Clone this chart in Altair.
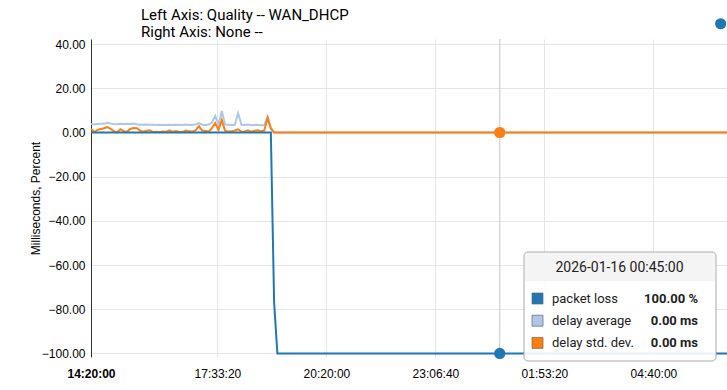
import altair as alt
import pandas as pd

# ---------------- data ----------------
series_names = ["packet loss", "delay average", "delay std. dev."]
series_colors = ["#1f77b4", "#aec7e8", "#ff7f0e"]
series_units = ["%", "ms", "ms"]

times = [
    "14:20", "14:25", "14:30", "14:35", "14:40", "14:45", "14:50", "14:55",
    "15:00", "15:05", "15:10", "15:15", "15:20", "15:25", "15:30", "15:35", "15:40", "15:45", "15:50", "15:55",
    "16:00", "16:05", "16:10", "16:15", "16:20", "16:25", "16:30", "16:35", "16:40", "16:45", "16:50", "16:55",
    "17:00", "17:05", "17:10", "17:15", "17:20", "17:25", "17:30", "17:35", "17:40", "17:45", "17:50", "17:55",
    "18:00", "18:05", "18:10", "18:15", "18:20", "18:25", "18:30", "18:35", "18:40", "18:45", "18:50", "18:55",
    "19:00", "19:05", "19:10", "06:32:30",
]

packet_loss = [0] * 56 + [77, 100, 100, 100]

delay_average = [
    3.9, 3.6, 3.8, 4.0, 3.9, 4.4, 4.0, 3.8,
    3.7, 3.9, 3.8, 3.9, 3.8, 4.0, 3.7, 3.5, 3.5, 3.6, 3.5, 3.5,
    3.4, 3.5, 3.4, 3.4, 3.5, 3.4, 3.5, 3.4, 3.4, 3.6, 3.4, 3.5,
    3.6, 4.2, 3.5, 3.4, 3.6, 4.5, 7.5, 3.6, 9.7, 3.6, 3.5, 3.4,
    3.5, 8.7, 3.5, 3.4, 3.6, 3.3, 3.4, 3.5, 3.3, 3.4, 7.1, 2.0,
    0.0, 0.0, 0.0, 0.0,
]

delay_std_dev = [
    1.7, 0.2, 1.2, 1.6, 1.9, 2.4, 1.6, 0.6,
    0.1, 1.5, 0.6, 0.3, 1.6, 2.0, 1.9, 0.9, 0.3, 0.8, 1.0, 0.2,
    0.3, 0.2, 0.4, 0.3, 1.0, 0.3, 0.6, 0.2, 0.3, 0.9, 0.5, 0.4,
    1.0, 2.9, 0.9, 0.7, 0.4, 2.0, 4.3, 1.2, 5.6, 0.8, 0.4, 0.5,
    0.9, 1.4, 0.3, 0.5, 1.0, 0.3, 0.8, 1.0, 0.5, 0.9, 6.7, 1.8,
    0.0, 0.0, 0.0, 0.0,
]

x_tick_labels = ["14:20:00", "17:33:20", "20:20:00", "23:06:40", "01:53:20", "04:40:00"]
x_domain = ["14:20:00", "06:32:30"]
y_ticks = [-100, -80, -60, -40, -20, 0, 20, 40]
y_domain = [-101.6, 42.3]

cursor_time = "00:45:00"
cursor_label = "2026-01-16 00:45:00"
cursor_values = [100.0, 0.0, 0.0]

marker_time = "06:22:48"
marker_value = 49.2

title_lines = ["Left Axis: Quality -- WAN_DHCP", "Right Axis: None --"]
y_title = "Milliseconds, Percent"


def to_sec(t):
    p = [int(v) for v in t.split(":")]
    while len(p) < 3:
        p.append(0)
    s = p[0] * 3600 + p[1] * 60 + p[2] - (14 * 3600 + 20 * 60)
    if s < 0:
        s += 86400
    return s


# ---------------- tables ----------------
rows = []
for name, vals in zip(series_names, [packet_loss, delay_average, delay_std_dev]):
    for t, v in zip(times, vals):
        rows.append({"t": to_sec(t), "series": name, "value": v})
df = pd.DataFrame(rows)

cur = pd.DataFrame({
    "t": [to_sec(cursor_time)] * 3,
    "series": series_names,
    "value": cursor_values,
    "unit": series_units,
    "row": [0, 1, 2],
})
cur["label"] = [f"{v:.2f} {u}" for v, u in zip(cursor_values, series_units)]

marker = pd.DataFrame({"t": [to_sec(marker_time)], "value": [marker_value]})
header = pd.DataFrame({"header": [cursor_label], "t": [to_sec(cursor_time)]})

FONT = "Liberation Sans"
TFONT = "Roboto"

color_scale = alt.Scale(domain=series_names, range=series_colors)

x_enc = alt.X(
    "t:Q",
    scale=alt.Scale(domain=[to_sec(x_domain[0]), to_sec(x_domain[1])], nice=False, zero=False),
    axis=alt.Axis(
        values=[to_sec(v) for v in x_tick_labels],
        labelExpr="timeFormat(datetime(2026, 0, 15, 14, 20, datum.value), '%H:%M:%S')",
        title=None,
        grid=True,
        gridColor="#e6e6e6",
        domain=False,
        ticks=False,
        labelFont=FONT,
        labelFontSize=12,
        labelColor="#000",
        labelPadding=11,
        labelFlush=False,
        labelFontWeight={"condition": {"test": "datum.value === 0", "value": "bold"}, "value": "normal"},
    ),
)

y_axis = alt.Axis(
    values=y_ticks,
    format=".2f",
    title=y_title,
    titleFont=FONT,
    titleFontSize=12,
    titleFontWeight="normal",
    titleColor="#000",
    titleX=-49,
    grid=True,
    gridColor="#e6e6e6",
    domainColor="#333",
    domainWidth=1,
    ticks=False,
    labelFont=FONT,
    labelFontSize=12,
    labelColor="#000",
    labelPadding=6,
)
y_scale = alt.Scale(domain=y_domain, nice=False, zero=False)


def y_plot():
    return alt.Y("yp:Q", scale=y_scale, axis=y_axis)


calc_y = "datum.series === 'packet loss' ? -datum.value : datum.value"

base = alt.Chart(df).transform_calculate(yp=calc_y)

rule = alt.Chart(header).mark_rule(color="#d0d0d0", strokeWidth=1.2).encode(x=x_enc)


def line_for(name):
    return base.transform_filter(alt.datum.series == name).mark_line(strokeWidth=2).encode(
        x=x_enc,
        y=y_plot(),
        color=alt.Color("series:N", scale=color_scale, legend=None),
    )


lines = [line_for(series_names[1]), line_for(series_names[2]), line_for(series_names[0])]

dots = alt.Chart(cur).transform_calculate(yp=calc_y).mark_circle(size=125, opacity=1).encode(
    x=x_enc, y=y_plot(),
    color=alt.Color("series:N", scale=color_scale, legend=None),
    order=alt.Order("row:Q", sort="ascending"),
)

stray = alt.Chart(marker).mark_circle(size=125, opacity=1, color="#1f77b4").encode(
    x=x_enc, y=alt.Y("value:Q", scale=y_scale, axis=y_axis),
)

# ---- tooltip box (pixel positions relative to plot origin) ----
OX, OY = 91, 39
box = alt.Chart(header).mark_rect(
    fill="white", fillOpacity=0.9, stroke="#a8a8a8", strokeWidth=1, cornerRadius=4
).encode(
    x=alt.value(524 - OX), x2=alt.value(716 - OX), y=alt.value(252 - OY), y2=alt.value(361 - OY)
)
head_bg = alt.Chart(header).mark_rect(
    fill="#f4f4f4", cornerRadiusTopLeft=3, cornerRadiusTopRight=3
).encode(
    x=alt.value(525 - OX), x2=alt.value(715 - OX), y=alt.value(253 - OY), y2=alt.value(281 - OY)
)
head_txt = alt.Chart(header).mark_text(
    font=TFONT, fontSize=14, color="#222", align="center", baseline="middle"
).encode(
    x=alt.value(619.5 - OX), y=alt.value(268 - OY), text="header:N"
)

tip = alt.Chart(cur).transform_calculate(
    py=f"{298.5 - OY} + 22.2 * datum.row",
    py1=f"{298.5 - OY - 5.5} + 22.2 * datum.row",
    py2=f"{298.5 - OY + 5.5} + 22.2 * datum.row",
)
swatch = tip.mark_rect(stroke="#666", strokeWidth=1, strokeOpacity=0.7).encode(
    x=alt.value(532 - OX), x2=alt.value(543 - OX),
    y=alt.Y("py1:Q", scale=None, axis=None), y2="py2:Q",
    color=alt.Color("series:N", scale=color_scale, legend=None),
)
names_txt = tip.mark_text(font=TFONT, fontSize=13, color="#222", align="left", baseline="middle").encode(
    x=alt.value(552 - OX), y=alt.Y("py:Q", scale=None, axis=None), text="series:N"
)
vals_txt = tip.mark_text(font=TFONT, fontSize=13, fontWeight="bold", color="#222", align="right", baseline="middle").encode(
    x=alt.value(698 - OX), y=alt.Y("py:Q", scale=None, axis=None), text="label:N"
)

chart = alt.layer(
    rule, *lines, dots, stray, box, head_bg, head_txt, swatch, names_txt, vals_txt
).properties(
    width=636,
    height=318,
    padding={"left": 91, "top": 39, "right": 0, "bottom": 33},
    autosize=alt.AutoSizeParams(type="none"),
    background="white",
    title=alt.TitleParams(
        text=title_lines,
        anchor="start",
        frame="group",
        dx=50,
        dy=24,
        offset=2,
        font=TFONT,
        fontSize=15,
        fontWeight="normal",
        color="#000",
        lineHeight=17,
    ),
).configure_view(stroke=None)

chart.save("out.html", embed_options={"renderer": "svg", "actions": False})
